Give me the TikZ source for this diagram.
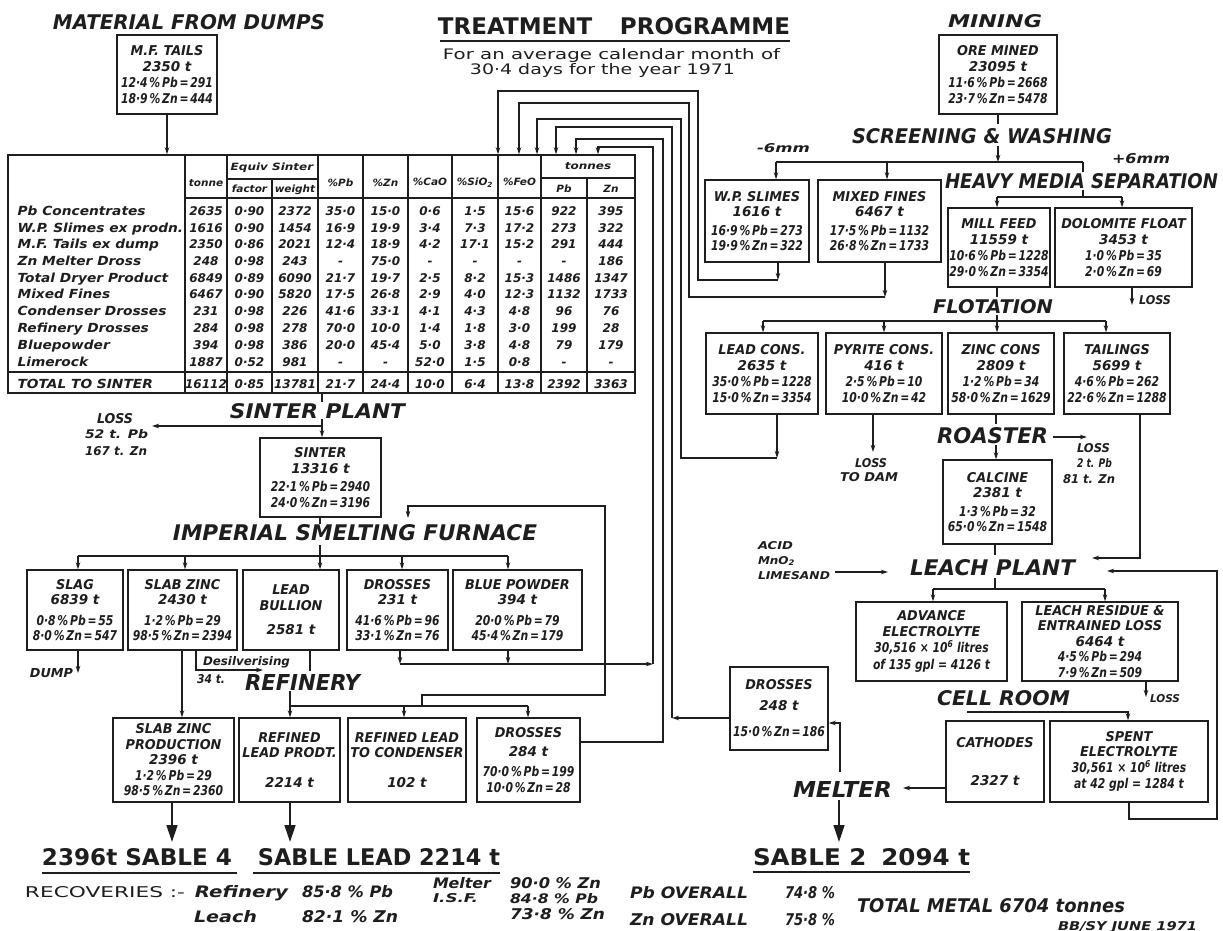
\documentclass[tikz,border=0pt]{standalone}
\usepackage{fontspec}
\setmainfont{DejaVu Sans}
\usepackage{graphicx}
\usetikzlibrary{arrows.meta}
\definecolor{ink}{HTML}{1E1E1E}
\newcommand\bx[6]{\node[box, minimum width={(#4-#2)*1pt}, minimum height={(#5-#3)*1pt}] (#1) at ({(#2+#4)/2},{(#3+#5)/2}) {#6};}
\newcommand\lab[6]{\node[ttl] (#1) at (#2,#3) {\resizebox{#4pt}{#5pt}{\bfseries\itshape #6}};}
\newcommand\labB[6]{\node[ttl] (#1) at (#2,#3) {\resizebox{#4pt}{#5pt}{\bfseries\itshape #6}};}
\newcommand\labu[6]{\node[ttl] (#1) at (#2,#3) {\resizebox{#4pt}{#5pt}{\upshape #6}};}
\newcommand\labb[6]{\node[ttl] (#1) at (#2,#3) {\resizebox{#4pt}{#5pt}{\bfseries\upshape #6}};}
\newcommand\hs[1]{\scalebox{0.95}[1]{#1}}
\newcommand\pc[1]{\scalebox{0.8}[1]{#1}}
\newcommand\tnm[1]{\scalebox{1.1}[1]{#1}}
\newcommand\tnum[1]{\scalebox{1.0}[1]{#1}}
\newcommand\thd[1]{\scalebox{1.05}[1]{#1}}
\newcommand\trow[3]{%
  \node[tcell, anchor=west, font=\fontsize{12.5}{14}\selectfont\bfseries\itshape] at (17,#1) {\tnm{#2}};
  \foreach \v [count=\i] in {#3} {
    \pgfmathsetmacro\cx{{206,249.5,295,340.5,385.5,430,475,519.5,564,611}[\i-1]}
    \node[tcell] at (\cx,#1) {\tnum{\v}};
  }
}
\begin{document}
\begin{tikzpicture}[x=1pt,y=-1pt,line width=1.15pt,color=ink,
  box/.style={draw,line width=1.4pt,inner sep=0pt,align=center,font=\fontsize{13.5}{15.5}\selectfont\bfseries\itshape},
  ttl/.style={inner sep=0pt,anchor=base},
  tcell/.style={inner sep=0pt,font=\fontsize{12}{14}\selectfont\bfseries\itshape,text height=9pt,text depth=0pt},
  hdr/.style={inner sep=0pt,font=\fontsize{10}{12}\selectfont\bfseries\itshape,text height=7.3pt,text depth=0pt},
  arr/.style={-{Stealth[length=7pt,width=4.5pt]}},
  big/.style={line width=1.3pt,-{Triangle[length=17pt,width=11pt]}}]
\fill[white] (0,0) rectangle (1223,931);
\useasboundingbox (0,0) rectangle (1223,931);

% ---------- titles ----------
\labB{tdumps}{189}{30}{272}{15}{MATERIAL FROM DUMPS}
\labb{ttreat}{614}{35}{352}{17}{TREATMENT\hspace{1.2em}PROGRAMME}
\draw[line width=1.3pt] (440,41) -- (790,41);
\labu{tfor}{611.5}{60}{337}{11}{For an average calendar month of}
\labu{tdays}{602.5}{75}{265}{11}{30·4 days for the year 1971}
\labB{tmining}{995}{28}{94}{13}{MINING}
\labB{tscreen}{982}{143}{260}{15}{SCREENING \& WASHING}
\lab{tminus}{783.5}{152}{53}{9}{-6mm}
\lab{tplus}{1141}{163}{58}{10}{+6mm}
\labB{thms}{1081.5}{188}{273}{15}{HEAVY MEDIA SEPARATION}
\labB{tflot}{993}{313}{120}{14}{FLOTATION}
\labB{troast}{992.5}{443}{111}{16}{ROASTER}
\labB{tleach}{992.5}{575}{165}{16}{LEACH PLANT}
\labB{tcell}{1003.5}{705}{133}{15}{CELL ROOM}
\labB{tmelt}{842.5}{797}{99}{16}{MELTER}
\labB{tsinter}{317.5}{418}{175}{15}{SINTER PLANT}
\labB{tisf}{355}{540}{364}{16}{IMPERIAL SMELTING FURNACE}
\labB{tref}{302.5}{690}{115}{16}{REFINERY}

% ---------- small labels ----------
\lab{lloss1}{115}{423}{36}{10}{LOSS}
\lab{lpb1}{116.5}{438}{63}{9}{52 t. Pb}
\lab{lzn1}{116}{455}{62}{9}{167 t. Zn}
\lab{lloss2}{1155}{304}{32}{9}{LOSS}
\lab{lloss3}{871}{467}{32}{9}{LOSS}
\lab{ldam}{869}{481}{58}{9}{TO DAM}
\lab{lloss4}{1093.5}{452}{33}{9}{LOSS}
\lab{lpb4}{1094.5}{467}{35}{9}{2 t. Pb}
\lab{lzn4}{1089}{483}{52}{9}{81 t. Zn}
\lab{lacid}{775.5}{549}{35}{8}{ACID}
\lab{lmno}{776.5}{564}{37}{8}{MnO\textsubscript{2}}
\lab{llime}{794}{579}{72}{8}{LIMESAND}
\lab{lloss5}{1165}{702}{30}{8}{LOSS}
\lab{ldump}{51.5}{677}{43}{9}{DUMP}
\lab{ldes}{246.5}{665}{87}{9}{Desilverising}
\lab{l34}{211}{683}{28}{9}{34 t.}

% ---------- bottom texts ----------
\labb{ls4}{137}{865}{190}{17}{2396t SABLE 4}
\labb{lsl}{379}{865}{242}{17}{SABLE LEAD 2214 t}
\labb{ls2}{861.5}{865}{217}{17}{SABLE 2\hspace{0.6em}2094 t}
\draw[line width=1.3pt] (42,873) -- (237,873);
\draw[line width=1.3pt] (253,873) -- (500,873);
\draw[line width=1.3pt] (753,872) -- (970,872);
\labu{lrec}{105}{897}{160}{11}{RECOVERIES :-}
\lab{lrf}{241.5}{897}{93}{12}{Refinery}
\lab{lrf2}{347.5}{897}{91}{12}{85·8 \% Pb}
\lab{llch}{225.5}{922}{63}{12}{Leach}
\lab{llch2}{350}{922}{96}{12}{82·1 \% Zn}
\lab{lmel}{462}{888}{58}{11}{Melter}
\lab{lmel2}{555.5}{888}{91}{11}{90·0 \% Zn}
\lab{lisf}{455.5}{902}{45}{9}{I.S.F.}
\lab{lisf2}{554}{903}{88}{10}{84·8 \% Pb}
\lab{lisf3}{557.5}{919}{95}{11}{73·8 \% Zn}
\lab{lpbo}{689}{898}{118}{12}{Pb OVERALL}
\lab{lpbo2}{810}{898}{50}{12}{74·8 \%}
\lab{lzno}{689}{925}{118}{12}{Zn OVERALL}
\lab{lzno2}{810}{925}{50}{12}{75·8 \%}
\lab{ltot}{991}{912}{268}{14}{TOTAL METAL 6704 tonnes}
\lab{lbb}{1127.5}{930}{139}{9}{BB/SY JUNE 1971}

% ---------- table ----------
\node[draw,line width=1.4pt,minimum width=627pt,minimum height=238pt,inner sep=0pt] (tbl) at (321.5,274) {};
\draw (185,198) -- (635,198);
\draw (8,372) -- (635,372);
\foreach \xx in {185,227,318,363,408,452,498,541} \draw (\xx,155) -- (\xx,393);
\draw (272,179) -- (272,393);
\draw (587,178) -- (587,393);
\draw (227,179) -- (318,179);
\draw (541,178) -- (635,178);
\node[hdr] at (206,183) {\thd{tonne}};
\node[hdr] at (272,167) {\scalebox{1.2}[1]{Equiv Sinter}};
\node[hdr] at (249.5,189) {\thd{factor}};
\node[hdr] at (295,189) {\thd{weight}};
\node[hdr] at (340.5,183) {\thd{\%Pb}};
\node[hdr] at (385.5,183) {\thd{\%Zn}};
\node[hdr] at (430,182) {\thd{\%CaO}};
\node[hdr] at (475,182) {\thd{\%SiO\textsubscript{2}}};
\node[hdr] at (519.5,182) {\thd{\%FeO}};
\node[hdr] at (588,166) {\scalebox{1.2}[1]{tonnes}};
\node[hdr] at (564,189) {\thd{Pb}};
\node[hdr] at (611,189) {\thd{Zn}};
\trow{211}{Pb Concentrates}{2635,0·90,2372,35·0,15·0,0·6,1·5,15·6,922,395}
\trow{228}{W.P. Slimes ex prodn.}{1616,0·90,1454,16·9,19·9,3·4,7·3,17·2,273,322}
\trow{244}{M.F. Tails ex dump}{2350,0·86,2021,12·4,18·9,4·2,17·1,15·2,291,444}
\trow{261}{Zn Melter Dross}{248,0·98,243,-,75·0,-,-,-,-,186}
\trow{278}{Total Dryer Product}{6849,0·89,6090,21·7,19·7,2·5,8·2,15·3,1486,1347}
\trow{294}{Mixed Fines}{6467,0·90,5820,17·5,26·8,2·9,4·0,12·3,1132,1733}
\trow{311}{Condenser Drosses}{231,0·98,226,41·6,33·1,4·1,4·3,4·8,96,76}
\trow{328}{Refinery Drosses}{284,0·98,278,70·0,10·0,1·4,1·8,3·0,199,28}
\trow{345}{Bluepowder}{394,0·98,386,20·0,45·4,5·0,3·8,4·8,79,179}
\trow{362}{Limerock}{1887,0·52,981,-,-,52·0,1·5,0·8,-,-}
\trow{384}{TOTAL TO SINTER}{16112,0·85,13781,21·7,24·4,10·0,6·4,13·8,2392,3363}

% ---------- boxes ----------
\bx{mft}{117}{35}{217}{114}{\hs{M.F. TAILS}\\2350 t\\[1pt]\pc{12·4\,\%\,Pb\,=\,291}\\\pc{18·9\,\%\,Zn\,=\,444}}
\bx{ore}{939}{35}{1057}{114}{\hs{ORE MINED}\\23095 t\\[1pt]\pc{11·6\,\%\,Pb\,=\,2668}\\\pc{23·7\,\%\,Zn\,=\,5478}}
\bx{wps}{705}{180}{809}{262}{\hs{W.P. SLIMES}\\1616 t\\[3pt]\pc{16·9\,\%\,Pb\,=\,273}\\\pc{19·9\,\%\,Zn\,=\,322}}
\bx{mxf}{818}{180}{941}{262}{\hs{MIXED FINES}\\6467 t\\[3pt]\pc{17·5\,\%\,Pb\,=\,1132}\\\pc{26·8\,\%\,Zn\,=\,1733}}
\bx{mill}{948}{208}{1050}{287}{\hs{MILL FEED}\\11559 t\\[1pt]\pc{10·6\,\%\,Pb\,=\,1228}\\\pc{29·0\,\%\,Zn\,=\,3354}}
\bx{dolo}{1055}{208}{1192}{287}{\hs{DOLOMITE FLOAT}\\3453 t\\[1pt]\pc{1·0\,\%\,Pb\,=\,35}\\\pc{2·0\,\%\,Zn\,=\,69}}
\bx{leadc}{706}{333}{818}{414}{\hs{LEAD CONS.}\\2635 t\\[1pt]\pc{35·0\,\%\,Pb\,=\,1228}\\\pc{15·0\,\%\,Zn\,=\,3354}}
\bx{pyr}{826}{333}{942}{414}{\hs{PYRITE CONS.}\\416 t\\[1pt]\pc{2·5\,\%\,Pb\,=\,10}\\\pc{10·0\,\%\,Zn\,=\,42}}
\bx{zincc}{948}{333}{1054}{414}{\hs{ZINC CONS}\\2809 t\\[1pt]\pc{1·2\,\%\,Pb\,=\,34}\\\pc{58·0\,\%\,Zn\,=\,1629}}
\bx{tail}{1064}{333}{1170}{414}{\hs{TAILINGS}\\5699 t\\[1pt]\pc{4·6\,\%\,Pb\,=\,262}\\\pc{22·6\,\%\,Zn\,=\,1288}}
\bx{calc}{943}{460}{1052}{544}{\hs{CALCINE}\\2381 t\\[3pt]\pc{1·3\,\%\,Pb\,=\,32}\\\pc{65·0\,\%\,Zn\,=\,1548}}
\bx{adv}{856}{602}{1007}{681}{\hs{ADVANCE}\\\hs{ELECTROLYTE}\\[1pt]\pc{30,516 × 10\textsuperscript{6} litres}\\[1pt]\pc{of 135 gpl = 4126 t}}
\bx{lres}{1022}{602}{1178}{681}{\hs{LEACH RESIDUE \&}\\\hs{ENTRAINED LOSS}\\6464 t\\\pc{4·5\,\%\,Pb\,=\,294}\\\pc{7·9\,\%\,Zn\,=\,509}}
\bx{cath}{946}{721}{1044}{802}{\hs{CATHODES}\\[22pt]2327 t}
\bx{spent}{1050}{721}{1208}{802}{\hs{SPENT}\\\hs{ELECTROLYTE}\\\pc{30,561 × 10\textsuperscript{6} litres}\\[1pt]\pc{at 42 gpl = 1284 t}}
\bx{dr248}{730}{667}{828}{750}{\hs{DROSSES}\\[5pt]248 t\\[11pt]\pc{15·0\,\%\,Zn\,=\,186}}
\bx{sinter}{260}{438}{381}{517}{\hs{SINTER}\\13316 t\\[3pt]\pc{22·1\,\%\,Pb\,=\,2940}\\\pc{24·0\,\%\,Zn\,=\,3196}}
\bx{slag}{27}{570}{123}{650}{\hs{SLAG}\\6839 t\\[5pt]\pc{0·8\,\%\,Pb\,=\,55}\\\pc{8·0\,\%\,Zn\,=\,547}}
\bx{slabz}{128}{570}{237}{650}{\hs{SLAB ZINC}\\2430 t\\[5pt]\pc{1·2\,\%\,Pb\,=\,29}\\\pc{98·5\,\%\,Zn\,=\,2394}}
\bx{bull}{243}{570}{339}{650}{\hs{LEAD}\\\hs{BULLION}\\[9pt]2581 t}
\bx{dr231}{347}{570}{448}{650}{\hs{DROSSES}\\231 t\\[5pt]\pc{41·6\,\%\,Pb\,=\,96}\\\pc{33·1\,\%\,Zn\,=\,76}}
\bx{blue}{453}{570}{582}{650}{\hs{BLUE POWDER}\\394 t\\[5pt]\pc{20·0\,\%\,Pb\,=\,79}\\\pc{45·4\,\%\,Zn\,=\,179}}
\bx{szp}{113}{718}{234}{802}{\hs{SLAB ZINC}\\\hs{PRODUCTION}\\2396 t\\\pc{1·2\,\%\,Pb\,=\,29}\\\pc{98·5\,\%\,Zn\,=\,2360}}
\bx{rlp}{239}{718}{340}{802}{\hs{REFINED}\\\hs{LEAD PRODT.}\\[14pt]2214 t}
\bx{rlc}{348}{718}{466}{802}{\hs{REFINED LEAD}\\\hs{TO CONDENSER}\\[14pt]102 t}
\bx{dr284}{477}{718}{580}{802}{\hs{DROSSES}\\[3pt]284 t\\[5pt]\pc{70·0\,\%\,Pb\,=\,199}\\\pc{10·0\,\%\,Zn\,=\,28}}

% ---------- connectors: mining side ----------
\draw[arr] (mft.south) -- (mft.south |- tbl.north);
\draw (ore.south) -- (ore.south |- 0,124);
\draw[arr] (ore.south |- 0,146) -- (ore.south |- 0,162);
\draw (776,162) -- (1083,162);
\draw[arr] (776,162) -- (776,0 |- wps.north);
\draw[arr] (887,162) -- (887,0 |- mxf.north);
\draw (1083,162) -- (1083,172);
\draw (1083,190) -- (1083,197);
\draw (997,197) -- (1122,197);
\draw[arr] (997,197) -- (997,0 |- mill.north);
\draw[arr] (1122,197) -- (1122,0 |- dolo.north);
\draw[arr] (1132,0 |- dolo.south) -- (1132,305);
\draw (997,0 |- mill.south) -- (997,297);
\draw (997,315) -- (997,321);
\draw (763,321) -- (1106,321);
\draw[arr] (763,321) -- (763,0 |- leadc.north);
\draw[arr] (884,321) -- (884,0 |- pyr.north);
\draw[arr] (997,321) -- (997,0 |- zincc.north);
\draw[arr] (1106,321) -- (1106,0 |- tail.north);
\draw (996,0 |- zincc.south) -- (996,424);
\draw[arr] (996,445) -- (996,0 |- calc.north);
\draw[arr] (1053,437) -- (1087,437);
\draw[arr] (873,0 |- pyr.south) -- (873,452);
\draw[arr] (1140,0 |- tail.south) |- (1092,558);
\draw (995,0 |- calc.south) -- (995,555);
\draw (995,578) -- (995,589);
\draw (933,589) -- (1105,589);
\draw[arr] (933,589) -- (933,0 |- adv.north);
\draw[arr] (1105,589) -- (1105,0 |- lres.north);
\draw[arr] (835,572) -- (888,572);
\draw[arr] (1146,0 |- lres.south) -- (1146,697);
\draw[arr] (967,712) -| (1128,0 |- spent.north);
\draw[arr] (1129,0 |- spent.south) |- (1217,819) |- (1107,571);
\draw[arr] (cath.west |- 0,788) -- (903,788);
\draw[arr] (840,772) |- (dr248.east |- 0,723);
\draw[big] (839,800) -- (839,842);
\draw[arr] (dr248.west |- 0,718) -- (672,718);

% ---------- feedback to table ----------
\draw[arr] (778,0 |- wps.south) -- (778,280);
\draw[arr] (778,280) -| (698,91) -| (498,0 |- tbl.north);
\draw[arr] (885,0 |- mxf.south) -- (885,297);
\draw[arr] (885,297) -| (689,103) -| (519,0 |- tbl.north);
\draw[arr] (777,0 |- leadc.south) -- (777,458);
\draw[arr] (777,458) -| (681,119) -| (537,0 |- tbl.north);
\draw[arr] (672,718) |- (556,127) -- (556,0 |- tbl.north);
\draw[arr] (dr284.east |- 0,742) -| (663,139) -| (576,0 |- tbl.north);
\draw[arr] (653,664) |- (598,147) -- (598,0 |- tbl.north);

% ---------- sinter / ISF side ----------
\draw (322,0 |- tbl.south) -- (322,402);
\draw[arr] (322,419) -- (322,0 |- sinter.north);
\draw[arr] (322,426) -- (152,426);
\draw (320,0 |- sinter.south) -- (320,524);
\draw (320,545) -- (320,556);
\draw (78,556) -- (508,556);
\draw[arr] (78,556) -- (78,0 |- slag.north);
\draw[arr] (185,556) -- (185,0 |- slabz.north);
\draw[arr] (320,556) -- (320,0 |- bull.north);
\draw[arr] (402,556) -- (402,0 |- dr231.north);
\draw[arr] (508,556) -- (508,0 |- blue.north);
\draw[arr] (78,0 |- slag.south) -- (78,673);
\draw[arr] (182,0 |- slabz.south) -- (182,0 |- szp.north);
\draw[arr] (196,0 |- slabz.south) |- (263,670);
\draw (310,0 |- bull.south) -- (310,671);
\draw (290,691) -- (290,706);
\draw (290,706) -- (528,706);
\draw[arr] (290,706) -- (290,0 |- rlp.north);
\draw[arr] (404,706) -- (404,0 |- rlc.north);
\draw[arr] (528,706) -- (528,0 |- dr284.north);
\draw[arr] (422,706) |- (605,695) |- (408,506) -- (408,518);
\draw[arr] (400,0 |- dr231.south) -- (400,664);
\draw[arr] (508,0 |- blue.south) -- (508,664);
\draw (400,664) -- (605,664);
\draw[arr] (605,664) -- (653,664);
\draw[big] (172,0 |- szp.south) -- (172,842);
\draw[big] (290,0 |- rlp.south) -- (290,842);
\end{tikzpicture}
\end{document}
